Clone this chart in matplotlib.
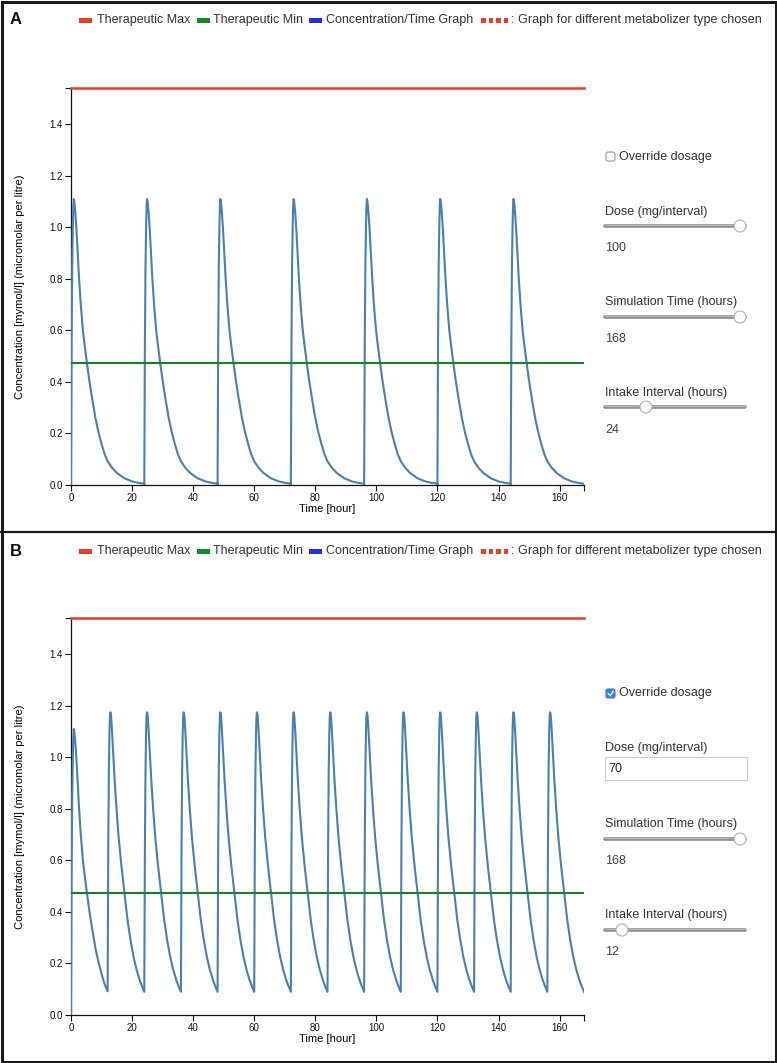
import numpy as np
import matplotlib
matplotlib.use("Agg")
from matplotlib import pyplot as plt
from matplotlib.patches import Rectangle, Circle, FancyBboxPatch

plt.rcParams['font.family'] = ['Liberation Sans', 'DejaVu Sans']

# dose times (hours)
doses_a = [0, 24, 48, 72, 96, 120, 144]
doses_b = [0, 12, 24, 36, 48, 60, 72, 84, 96, 108, 120, 132, 144, 156]

# concentration after one dose (hours after intake, mymol/l)
cycle_a_t = [0.0, 0.2, 0.4, 0.6, 0.75, 0.9, 1.1, 1.4, 1.8, 2.2, 2.6, 3.2, 3.9, 4.5,
             5.2, 6.0, 7.0, 8.0, 9.0, 10.0, 11.0, 12.0, 13.5, 15.0, 17.5, 20.0, 22.0, 24.0]
cycle_a_c = [0.0, 0.55, 0.85, 1.00, 1.08, 1.11, 1.10, 1.06, 0.99, 0.90, 0.81, 0.70, 0.60, 0.54,
             0.475, 0.405, 0.33, 0.26, 0.205, 0.16, 0.12, 0.092, 0.066, 0.047, 0.026, 0.014, 0.0085, 0.005]

# repeated dose every 12 h in panel B (starts from the 0.09 trough)
cycle_b_t = [0.0, 0.2, 0.4, 0.6, 0.75, 0.9, 1.1, 1.4, 1.8, 2.3, 2.9, 3.6, 4.5, 5.5,
             6.5, 7.5, 8.5, 9.5, 10.5, 11.3, 12.0]
cycle_b_c = [0.09, 0.65, 0.95, 1.10, 1.16, 1.175, 1.165, 1.11, 1.02, 0.91, 0.80, 0.69, 0.58, 0.475,
             0.37, 0.29, 0.225, 0.175, 0.135, 0.11, 0.09]

ther_max = 1.541
ther_min = 0.475
sim_hours = 168

# build the curves
t_a, c_a = [], []
for d in doses_a:
    t_a += [d + t for t in cycle_a_t]
    c_a += cycle_a_c

t_b = [t for t in cycle_a_t if t <= 12]
c_b = cycle_a_c[:len(t_b)]
for d in doses_b[1:]:
    t_b += [d + t for t in cycle_b_t[1:]]
    c_b += cycle_b_c[1:]

W, H = 777, 1063
fig = plt.figure(figsize=(W / 100, H / 100), dpi=100)

red = '#ec3c24'
green = '#1a7f2a'
blue_line = '#4a7fb0'


def px_axes(left, top, right, bottom):
    return fig.add_axes([left / W, 1 - bottom / H, (right - left) / W, (bottom - top) / H])


def draw_chart(ax, t, c):
    ax.plot(t, c, color=blue_line, lw=1.5, zorder=3)
    ax.axhline(ther_max, color=red, lw=1.8, clip_on=False, zorder=4)
    ax.axhline(ther_min, color=green, lw=1.5, zorder=4)
    ax.set_xlim(0, sim_hours)
    ax.set_ylim(0, ther_max)
    ax.set_xticks(np.arange(0, 161, 20))
    ax.set_yticks(np.arange(0, 1.41, 0.2))
    ax.set_yticklabels([f"{v:.1f}" for v in np.arange(0, 1.41, 0.2)])
    ax.set_xticks([sim_hours], minor=True)
    ax.set_yticks([ther_max], minor=True)
    ax.tick_params(which='both', direction='out', length=4.5, width=0.8, labelsize=7, pad=1.5, colors='#111')
    for s in ['top', 'right']:
        ax.spines[s].set_visible(False)
    for s in ['left', 'bottom']:
        ax.spines[s].set_linewidth(0.9)
        ax.spines[s].set_color('#111')
    ax.set_xlabel("Time [hour]", fontsize=8)
    ax.set_ylabel("Concentration [mymol/l] (micromolar per litre)", fontsize=8)
    ax.xaxis.set_label_coords(0.5, -0.048)
    ax.yaxis.set_label_coords(-0.089, 0.5)


ax_a = px_axes(71, 88, 584, 485)
draw_chart(ax_a, t_a, c_a)
ax_b = px_axes(71, 618, 584, 1015)
draw_chart(ax_b, t_b, c_b)

# overlay in pixel coordinates for frames, legends and controls
ov = fig.add_axes([0, 0, 1, 1], zorder=10)
ov.set_xlim(0, W)
ov.set_ylim(H, 0)
ov.axis('off')
ov.patch.set_alpha(0)

ov.add_patch(Rectangle((1.5, 1.5), W - 3, H - 3, fill=False, ec='#1a1a1a', lw=2.2))
ov.plot([0, W], [531.5, 531.5], color='#1a1a1a', lw=1.6)

txt = '#333333'


def legend(y):
    ov.add_patch(Rectangle((79, y - 2.5), 13, 5, color=red, lw=0))
    ov.text(97, y, "Therapeutic Max", fontsize=9, va='center', color=txt)
    ov.add_patch(Rectangle((197, y - 2.5), 13, 5, color='#138a2c', lw=0))
    ov.text(213, y, "Therapeutic Min", fontsize=9, va='center', color=txt)
    ov.add_patch(Rectangle((309, y - 2.5), 13, 5, color='#2233dd', lw=0))
    ov.text(326, y, "Concentration/Time Graph", fontsize=9, va='center', color=txt)
    for x0 in [481, 488.5, 496, 503.5]:
        ov.add_patch(Rectangle((x0, y - 2.5), 4.5, 5, color=red, lw=0))
    ov.text(511, y, ": Graph for different metabolizer type chosen", fontsize=9.1, va='center', color=txt)


def slider(y, knob_x):
    ov.plot([605, 745], [y, y], color='#8c8c8c', lw=2.6, solid_capstyle='round')
    ov.plot([605, 745], [y - 0.8, y - 0.8], color='#b5b5b5', lw=0.8)
    ov.add_patch(Circle((knob_x, y), 6, fc='white', ec='#b0b0b0', lw=0.8, zorder=5))


# panel A
ov.text(10, 19, "A", fontsize=12, fontweight='bold', va='center', color='#111')
legend(20)
ov.add_patch(FancyBboxPatch((606, 152), 9, 9, boxstyle='round,pad=0,rounding_size=2',
                            fc='white', ec='#9a9a9a', lw=0.8))
ov.text(619, 157, "Override dosage", fontsize=9, va='center', color=txt)
ov.text(605, 212, "Dose (mg/interval)", fontsize=9, va='center', color=txt)
slider(226, 740)
ov.text(605, 248, "100", fontsize=9, va='center', color='#444')
ov.text(605, 302, "Simulation Time (hours)", fontsize=9, va='center', color=txt)
slider(317, 740)
ov.text(605, 339, "168", fontsize=9, va='center', color='#444')
ov.text(605, 393, "Intake Interval (hours)", fontsize=9, va='center', color=txt)
slider(407, 646)
ov.text(605, 430, "24", fontsize=9, va='center', color='#444')

# panel B
ov.text(10, 551, "B", fontsize=12, fontweight='bold', va='center', color='#111')
legend(551)
ov.add_patch(FancyBboxPatch((606, 689), 9, 9, boxstyle='round,pad=0,rounding_size=2',
                            fc='#3a7de0', ec='#3a7de0', lw=0.8))
ov.plot([608.3, 610.3, 613.2], [693.5, 695.8, 691.2], color='white', lw=1.0)
ov.text(619, 693, "Override dosage", fontsize=9, va='center', color=txt)
ov.text(605, 748, "Dose (mg/interval)", fontsize=9, va='center', color=txt)
ov.add_patch(Rectangle((605, 757), 142, 23, fc='white', ec='#cfcfcf', lw=0.8))
ov.text(608, 768.5, "70", fontsize=9, va='center', color='#222')
ov.text(605, 824, "Simulation Time (hours)", fontsize=9, va='center', color=txt)
slider(839, 740)
ov.text(605, 861, "168", fontsize=9, va='center', color='#444')
ov.text(605, 915, "Intake Interval (hours)", fontsize=9, va='center', color=txt)
slider(930, 622)
ov.text(605, 952, "12", fontsize=9, va='center', color='#444')

fig.savefig("out.png", dpi=100)
